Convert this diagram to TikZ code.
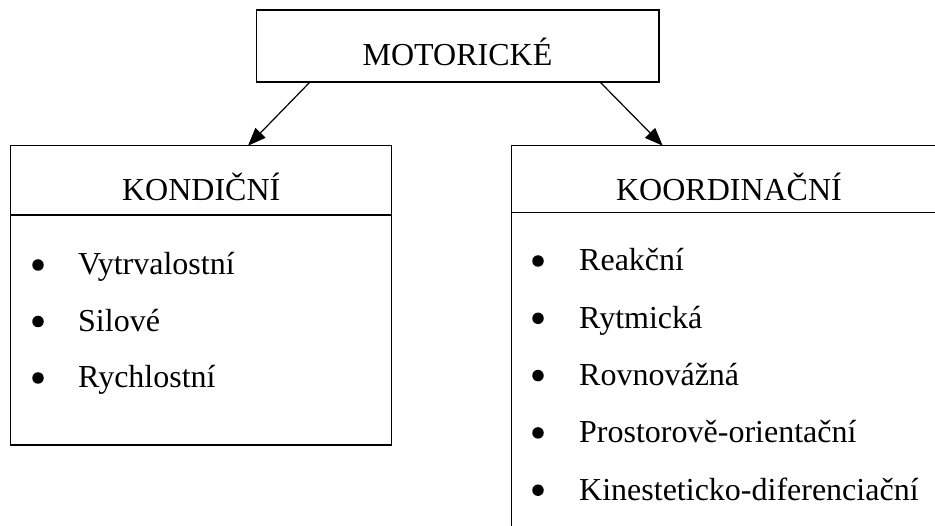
\documentclass[tikz,border=0pt]{standalone}
\usepackage{fontspec}
\setmainfont{Liberation Serif}
\usetikzlibrary{arrows.meta}
\tikzset{
  boxline/.style={draw=black, line width=1.2pt},
  frame/.style={boxline, rectangle, inner sep=0pt, outer sep=0pt},
  txt/.style={inner sep=0pt, font=\fontsize{32}{38}\selectfont},
  item/.style={txt, anchor=base west},
  head/.style={txt, anchor=base},
  dot/.style={circle, fill=black, inner sep=0pt, minimum size=11.5pt},
  conn/.style={line width=1.2pt, -{Triangle[length=18pt,width=14pt]}}
}
\begin{document}
\begin{tikzpicture}[x=1pt,y=-1pt]
\useasboundingbox (0,0) rectangle (935,526);
\clip (0,0) rectangle (935,526);
% top box
\node[frame, minimum width=402.3pt, minimum height=72pt] (top) at (457.85,46) {};
\node[head] (toptext) at (457.5,66) {MOTORICKÉ};
% left box
\node[frame, minimum width=381pt, minimum height=299.3pt] (left) at (201.2,295.35) {};
\draw[boxline] (left.west |- 0,215) coordinate (ld1) -- (left.east |- 0,215) coordinate (ld2);
\node[head] (lhead) at (201.2,201) {KONDIČNÍ};
% right box (continues past picture edge)
\node[frame, minimum width=440pt, minimum height=400pt] (right) at (731.7,345.7) {};
\draw[boxline] (right.west |- 0,212.7) coordinate (rd1) -- (right.east |- 0,212.7) coordinate (rd2);
\node[head] (rhead) at (729,200.7) {KOORDINAČNÍ};
% left items
\node[dot] (lb1) at (38,265) {};
\node[item] (li1) at (78,275) {Vytrvalostní};
\node[dot] (lb2) at (38,321.5) {};
\node[item] (li2) at (78,331.5) {Silové};
\node[dot] (lb3) at (38,378) {};
\node[item] (li3) at (78,388) {Rychlostní};
% right items
\node[dot] (rb1) at (538,261) {};
\node[item] (ri1) at (579,271) {Reakční};
\node[dot] (rb2) at (538,318.3) {};
\node[item] (ri2) at (579,328.3) {Rytmická};
\node[dot] (rb3) at (538,375.6) {};
\node[item] (ri3) at (579,385.6) {Rovnovážná};
\node[dot] (rb4) at (538,432.9) {};
\node[item] (ri4) at (579,442.9) {Prostorově-orientační};
\node[dot] (rb5) at (538,490.2) {};
\node[item] (ri5) at (579,500.2) {Kinesteticko-diferenciační};
% connectors
\coordinate (a1s) at (310,82);
\coordinate (a1e) at (248,145.7);
\coordinate (a2s) at (600,82);
\coordinate (a2e) at (662.7,145.7);
\draw[conn] (a1s) -- (a1e);
\draw[conn] (a2s) -- (a2e);
\end{tikzpicture}
\end{document}
